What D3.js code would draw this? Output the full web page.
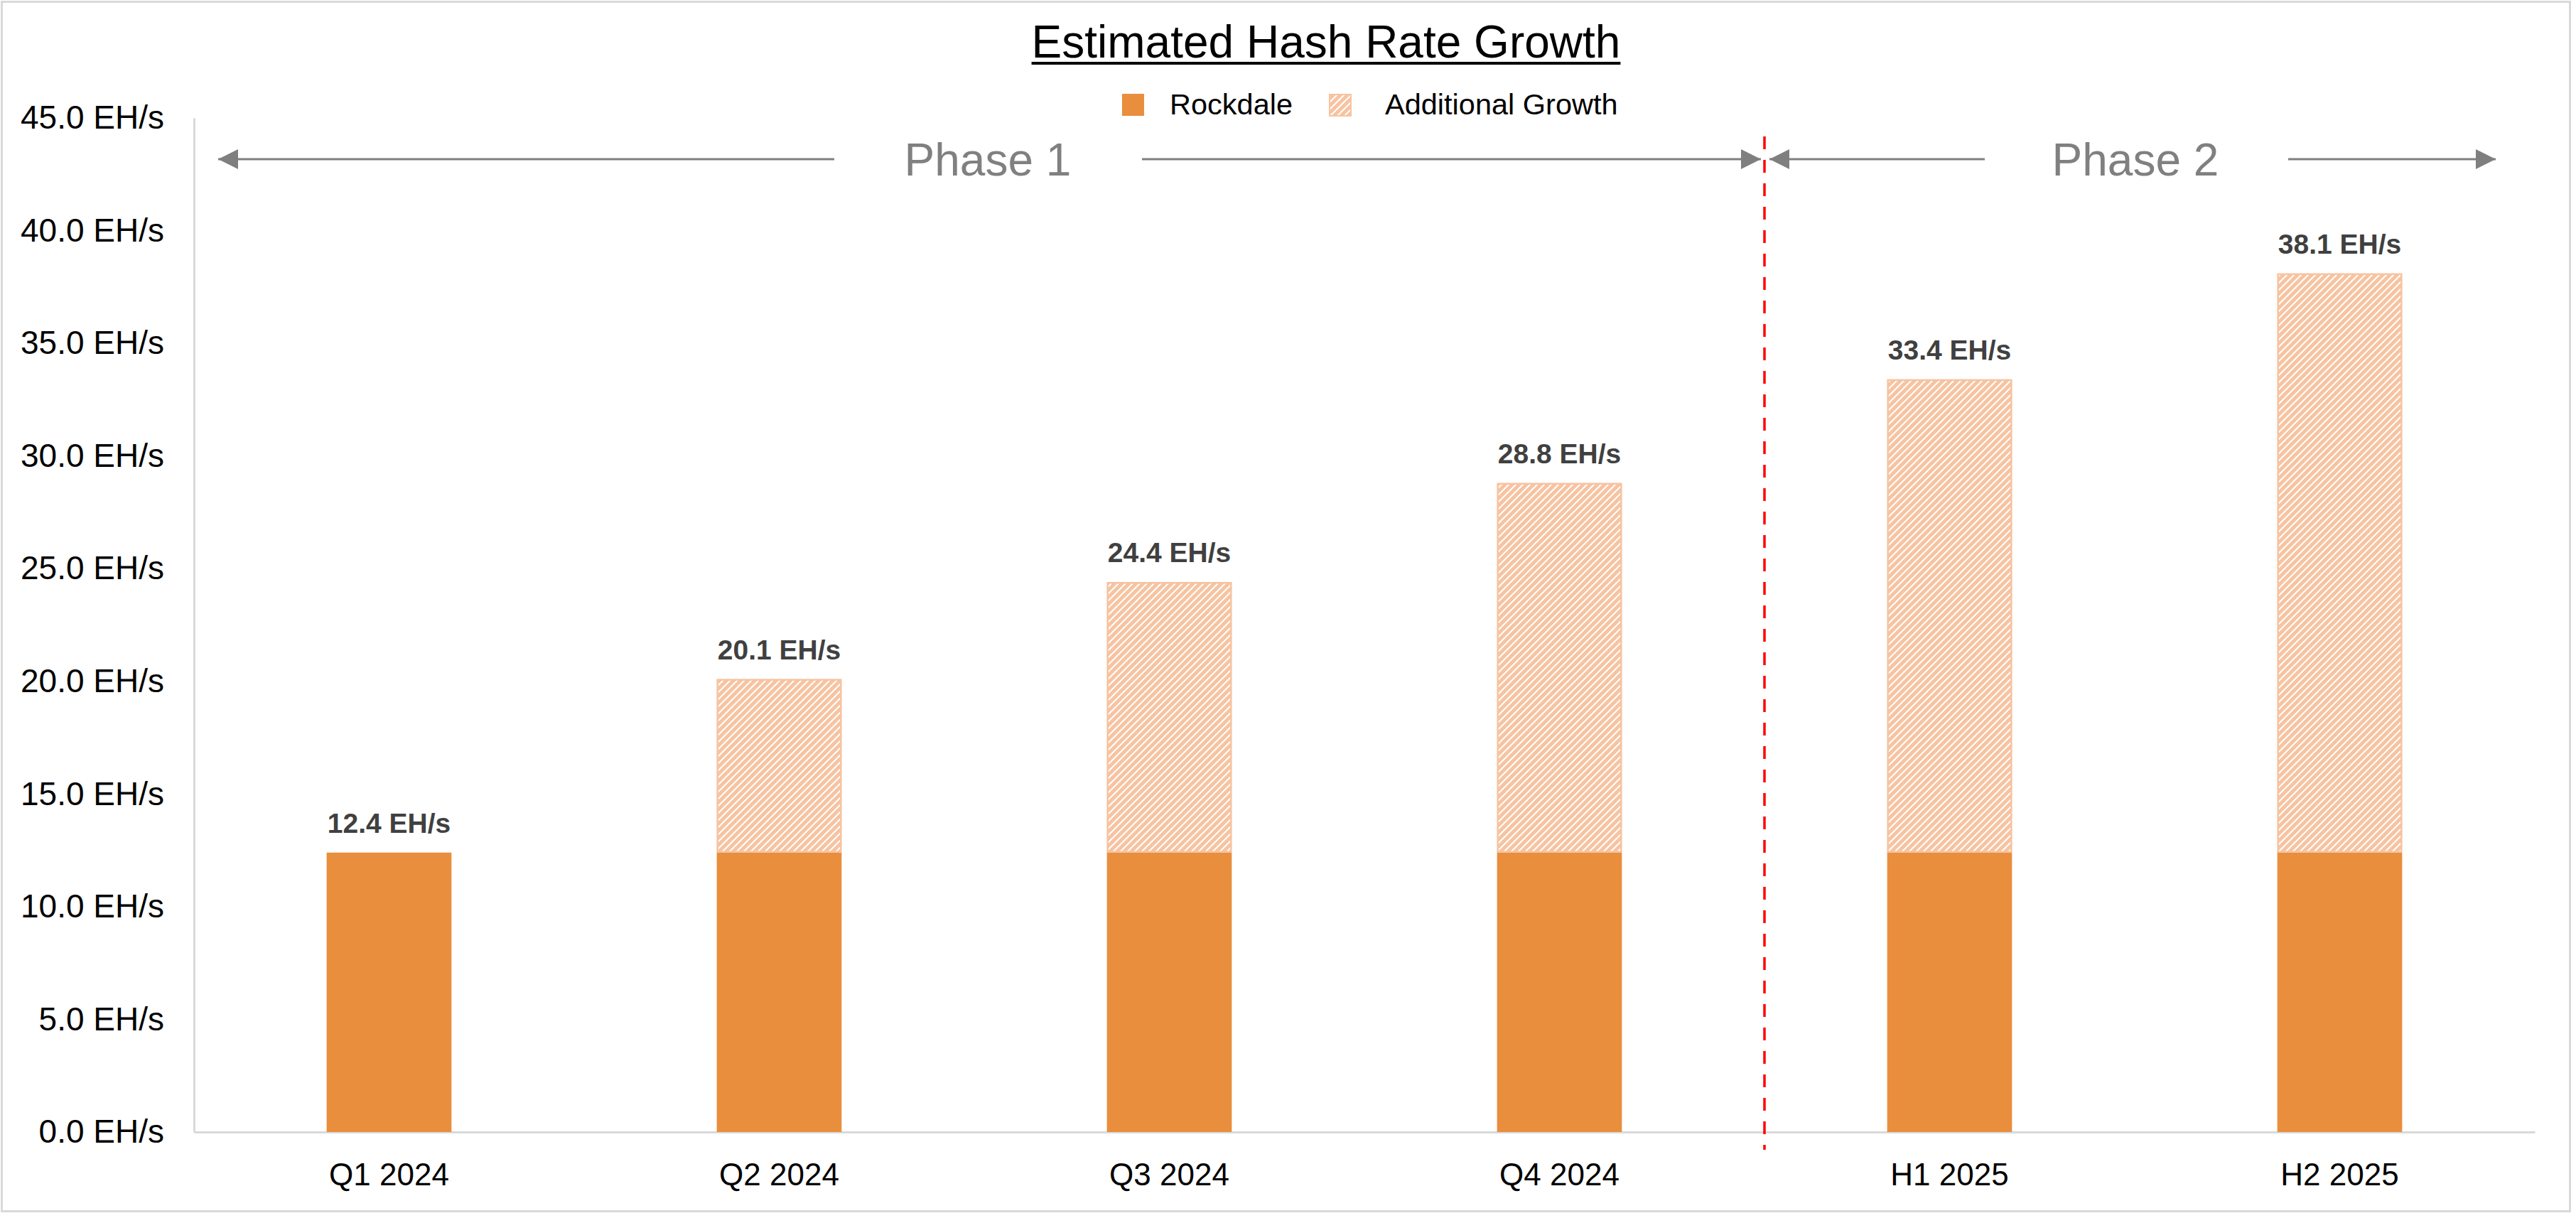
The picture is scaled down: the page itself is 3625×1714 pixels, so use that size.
<!DOCTYPE html>
<html>
<head>
<meta charset="utf-8">
<script src="https://cdn.jsdelivr.net/npm/d3@7"></script>
<style>
  html, body { margin: 0; padding: 0; background: #fff; }
  svg { display: block; font-family: "Liberation Sans", Arial, sans-serif; }
</style>
</head>
<body>
<svg id="chart" width="3625" height="1714"></svg>
<script>
const categories = ["Q1 2024", "Q2 2024", "Q3 2024", "Q4 2024", "H1 2025", "H2 2025"];
const rockdale = [12.4, 12.4, 12.4, 12.4, 12.4, 12.4];
const totals = [12.4, 20.1, 24.4, 28.8, 33.4, 38.1];
const additional = totals.map((t, i) => +(t - rockdale[i]).toFixed(1));
const yTicks = [0, 5, 10, 15, 20, 25, 30, 35, 40, 45];
const seriesNames = ["Rockdale", "Additional Growth"];
const phases = ["Phase 1", "Phase 2"];

const W = 3625, H = 1714;
const plot = { left: 273, right: 3567, top: 166, bottom: 1593 };
const hatchColor = "#F7C3A0";

const svg = d3.select("#chart");
const defs = svg.append("defs");
const P = 10;
const pat = defs.append("pattern")
  .attr("id", "hatch")
  .attr("patternUnits", "userSpaceOnUse")
  .attr("width", P).attr("height", P);
pat.append("rect").attr("width", P).attr("height", P).attr("fill", "#fff");
pat.append("path")
  .attr("d", `M-2,2 L2,-2 M0,${P} L${P},0 M${P - 2},${P + 2} L${P + 2},${P - 2}`)
  .attr("stroke", hatchColor).attr("stroke-width", 5);

// outer border
svg.append("rect").attr("x", 2.5).attr("y", 2.5).attr("width", W - 11).attr("height", H - 12)
  .attr("fill", "#fff").attr("stroke", "#D9D9D9").attr("stroke-width", 3);

const x = d3.scaleBand().domain(categories).range([plot.left, plot.right]).paddingInner(0.68).paddingOuter(0.34);
const y = d3.scaleLinear().domain([0, 45]).range([plot.bottom, plot.top]);

// axes
const yAxis = svg.append("g").attr("transform", `translate(${plot.left},0)`)
  .call(d3.axisLeft(y).tickValues(yTicks).tickSize(0).tickPadding(42).tickFormat(d => d3.format(".1f")(d) + " EH/s"));
yAxis.select(".domain").attr("stroke", "#D9D9D9").attr("stroke-width", 3);
yAxis.selectAll("text").attr("font-size", 46).attr("fill", "#000").attr("font-family", "Liberation Sans, Arial, sans-serif");

const xAxis = svg.append("g").attr("transform", `translate(0,${plot.bottom})`)
  .call(d3.axisBottom(x).tickSize(0).tickPadding(44));
xAxis.select(".domain").attr("stroke", "#D9D9D9").attr("stroke-width", 3);
xAxis.selectAll("text").attr("font-size", 44).attr("fill", "#000").attr("font-family", "Liberation Sans, Arial, sans-serif");

// bars
const bars = svg.append("g");
categories.forEach((c, i) => {
  bars.append("rect")
    .attr("x", x(c)).attr("width", x.bandwidth())
    .attr("y", y(rockdale[i])).attr("height", y(0) - y(rockdale[i]))
    .attr("fill", "#E98E3D");
  if (additional[i] > 0) {
    const top = y(rockdale[i] + additional[i]);
    bars.append("rect")
      .attr("x", x(c) + 1).attr("width", x.bandwidth() - 2)
      .attr("y", top + 1).attr("height", y(rockdale[i]) - top - 2)
      .attr("fill", "url(#hatch)").attr("stroke", hatchColor).attr("stroke-width", 2.5);
  }
  bars.append("text")
    .attr("x", x(c) + x.bandwidth() / 2)
    .attr("y", y(totals[i]) - 28)
    .attr("text-anchor", "middle")
    .attr("font-size", 39).attr("font-weight", "bold").attr("fill", "#404040")
    .text(d3.format(".1f")(totals[i]) + " EH/s");
});

// title
const title = svg.append("text").attr("x", 1866).attr("y", 81).attr("text-anchor", "middle")
  .attr("font-size", 64).attr("fill", "#000").text("Estimated Hash Rate Growth");
const tb = title.node().getBBox();
svg.append("line").attr("x1", tb.x).attr("x2", tb.x + tb.width).attr("y1", 89).attr("y2", 89)
  .attr("stroke", "#000").attr("stroke-width", 4);

// legend
const lg = svg.append("g");
lg.append("rect").attr("x", 1579).attr("y", 132).attr("width", 31).attr("height", 31).attr("fill", "#E98E3D");
lg.append("text").attr("x", 1646).attr("y", 161).attr("font-size", 41.5).attr("fill", "#000").text(seriesNames[0]);
lg.append("rect").attr("x", 1871).attr("y", 133).attr("width", 30).attr("height", 30).attr("fill", "url(#hatch)")
  .attr("stroke", hatchColor).attr("stroke-width", 2);
lg.append("text").attr("x", 1949).attr("y", 161).attr("font-size", 41.5).attr("fill", "#000").text(seriesNames[1]);

// phase arrows
const ay = 224;
defs.append("marker").attr("id", "arr").attr("viewBox", "0 0 10 10").attr("refX", 10).attr("refY", 5)
  .attr("markerUnits", "userSpaceOnUse").attr("markerWidth", 28).attr("markerHeight", 36)
  .attr("orient", "auto-start-reverse")
  .append("path").attr("d", "M0,0 L10,5 L0,10 Z").attr("fill", "#7F7F7F");

const ann = svg.append("g").attr("stroke", "#7F7F7F").attr("stroke-width", 3);
ann.append("line").attr("x1", 307).attr("x2", 1174).attr("y1", ay).attr("y2", ay).attr("marker-start", "url(#arr)");
ann.append("line").attr("x1", 1607).attr("x2", 2478).attr("y1", ay).attr("y2", ay).attr("marker-end", "url(#arr)");
ann.append("line").attr("x1", 2490).attr("x2", 2793).attr("y1", ay).attr("y2", ay).attr("marker-start", "url(#arr)");
ann.append("line").attr("x1", 3220).attr("x2", 3512).attr("y1", ay).attr("y2", ay).attr("marker-end", "url(#arr)");

svg.append("text").attr("x", 1390).attr("y", ay + 23).attr("text-anchor", "middle")
  .attr("font-size", 64).attr("fill", "#808080").text(phases[0]);
svg.append("text").attr("x", 3005).attr("y", ay + 23).attr("text-anchor", "middle")
  .attr("font-size", 64).attr("fill", "#808080").text(phases[1]);

// red dashed divider
svg.append("line").attr("x1", 2483).attr("x2", 2483).attr("y1", 192).attr("y2", 1618)
  .attr("stroke", "#FF0000").attr("stroke-width", 3.5).attr("stroke-dasharray", "18,15");
</script>
</body>
</html>
